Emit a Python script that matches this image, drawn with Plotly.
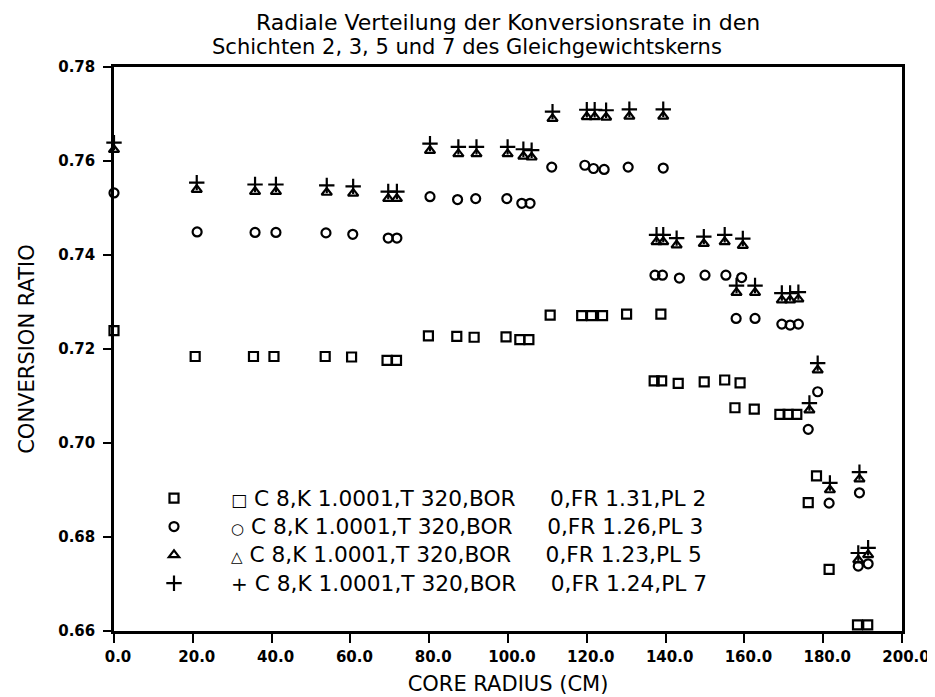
import plotly.graph_objects as go

# ---- data ----
sq_x = [0.0, 20.6, 35.4, 40.6, 53.6, 60.3, 69.3, 71.7, 79.8, 87.0, 91.4, 99.5, 103.0, 105.3,
        110.7, 118.7, 121.2, 124.0, 130.1, 138.8, 137.1, 139.0, 143.2, 149.8, 155.0, 158.9,
        157.6, 162.5, 169.0, 171.1, 173.3, 178.3, 176.2, 181.5, 188.7, 191.3]
sq_y = [0.7239, 0.7184, 0.7184, 0.7184, 0.7184, 0.7183, 0.7176, 0.7176, 0.7228, 0.7227, 0.7225, 0.7226, 0.7220, 0.7220,
        0.7272, 0.7271, 0.7271, 0.7271, 0.7274, 0.7274, 0.7132, 0.7132, 0.7127, 0.7130, 0.7134, 0.7128,
        0.7075, 0.7072, 0.7061, 0.7061, 0.7061, 0.6930, 0.6873, 0.6731, 0.6613, 0.6613]

ci_x = [0.0, 21.1, 35.8, 41.1, 53.8, 60.6, 69.6, 71.8, 80.2, 87.2, 91.8, 99.7, 103.5, 105.6,
        111.1, 119.5, 121.7, 124.4, 130.5, 139.4, 137.3, 139.2, 143.5, 150.0, 155.3, 159.3,
        157.9, 162.7, 169.5, 171.6, 173.7, 178.6, 176.2, 181.5, 189.2, 188.9, 191.4]
ci_y = [0.7532, 0.7449, 0.7448, 0.7448, 0.7447, 0.7444, 0.7436, 0.7436, 0.7524, 0.7518, 0.7520, 0.7520, 0.7510, 0.7510,
        0.7587, 0.7591, 0.7584, 0.7582, 0.7587, 0.7585, 0.7357, 0.7357, 0.7351, 0.7357, 0.7357, 0.7352,
        0.7265, 0.7265, 0.7253, 0.7251, 0.7253, 0.7109, 0.7029, 0.6872, 0.6894, 0.6738, 0.6743]

tr_x = [0.0, 21.0, 35.8, 41.1, 54.0, 60.7, 69.6, 71.8, 80.2, 87.4, 92.0, 99.9, 103.9, 106.0,
        111.3, 120.0, 122.0, 124.9, 130.8, 139.4, 137.7, 139.4, 142.8, 149.7, 155.0, 159.6,
        158.0, 162.7, 169.5, 171.6, 173.7, 178.6, 176.5, 181.7, 189.2, 188.9, 191.4]
tr_y = [0.7624, 0.7539, 0.7535, 0.7535, 0.7533, 0.7531, 0.7520, 0.7520, 0.7622, 0.7615, 0.7615, 0.7615, 0.7610, 0.7608,
        0.7690, 0.7694, 0.7694, 0.7693, 0.7695, 0.7695, 0.7428, 0.7428, 0.7421, 0.7424, 0.7428, 0.7420,
        0.7320, 0.7320, 0.7304, 0.7304, 0.7306, 0.7155, 0.7070, 0.6900, 0.6923, 0.6751, 0.6762]

pl_x = [0.0, 21.0, 35.8, 41.1, 54.0, 60.7, 69.6, 71.8, 80.2, 87.4, 92.0, 99.9, 103.9, 106.0,
        111.3, 120.0, 122.0, 124.9, 130.8, 139.4, 137.7, 139.4, 142.8, 149.7, 155.0, 159.6,
        158.0, 162.7, 169.5, 171.6, 173.7, 178.6, 176.5, 181.7, 189.2, 188.9, 191.4]
pl_y = [0.7639, 0.7554, 0.7550, 0.7550, 0.7548, 0.7546, 0.7535, 0.7535, 0.7637, 0.7630, 0.7630, 0.7630, 0.7625, 0.7623,
        0.7705, 0.7709, 0.7709, 0.7708, 0.7710, 0.7710, 0.7443, 0.7443, 0.7436, 0.7439, 0.7443, 0.7435,
        0.7335, 0.7335, 0.7319, 0.7319, 0.7321, 0.7170, 0.7085, 0.6915, 0.6938, 0.6766, 0.6777]

x_ticks = [0, 20, 40, 60, 80, 100, 120, 140, 160, 180, 200]
x_ticktext = ["0.0", "20.0", "40.0", "60.0", "80.0", "100.0", "120.0", "140.0", "160.0", "180.0", "200.0"]
y_ticks = [0.66, 0.68, 0.70, 0.72, 0.74, 0.76, 0.78]
y_ticktext = ["0.66", "0.68", "0.70", "0.72", "0.74", "0.76", "0.78"]

SP = "\u00a0"
series_labels = [
    ('<span style="font-size:17px">\u25A1</span>', f"C 8,K 1.0001,T 320,BOR{SP*5}0,FR 1.31,PL 2"),
    ('<span style="font-size:15px">\u25CB</span>', f"C 8,K 1.0001,T 320,BOR{SP*5}0,FR 1.26,PL 3"),
    ('<span style="font-size:15px">\u25B3</span>', f"C 8,K 1.0001,T 320,BOR{SP*5}0,FR 1.23,PL 5"),
    ('<span style="font-size:20px">+</span>', f"C 8,K 1.0001,T 320,BOR{SP*5}0,FR 1.24,PL 7"),
]
symbols = ["square-open", "circle-open", "triangle-up-open", "cross-thin-open"]
sizes = [9, 9, 9, 11]
xs = [sq_x, ci_x, tr_x, pl_x]
ys = [sq_y, ci_y, tr_y, pl_y]

FONT = "DejaVu Sans"

fig = go.Figure()
for (sym_txt, lab), sym, sz, x, y in zip(series_labels, symbols, sizes, xs, ys):
    name = f'{sym_txt}<span style="font-size:21.7px"> {lab}</span>'
    fig.add_trace(go.Scatter(
        x=x, y=y, mode="markers", name=name, cliponaxis=False,
        marker=dict(symbol=sym, size=sz, color="black",
                    line=dict(width=2.2, color="black")),
    ))

# the page body adds an 8px offset; compensate so the plot lands where the reference has it
OFF = 8
L, R, T, B = 114 - OFF, 33, 67 - OFF, 66
W, H = 935 - OFF, 697 - OFF
pw, ph = W - L - R, H - T - B

def px_x(p):
    return (p - OFF - L) / pw

def px_y(p):
    return (H - B - (p - OFF)) / ph

fig.update_layout(
    template="none",
    width=W, height=H,
    margin=dict(l=L, r=R, t=T, b=B, autoexpand=False),
    paper_bgcolor="white", plot_bgcolor="white",
    font=dict(family=FONT, color="black"),
    showlegend=True,
    legend=dict(
        x=px_x(117), y=px_y(479), xanchor="left", yanchor="top",
        bgcolor="rgba(0,0,0,0)", borderwidth=0,
        font=dict(family=FONT, size=19.5, color="black"),
        itemwidth=104, tracegroupgap=0,
    ),
    annotations=[
        dict(text="Radiale Verteilung der Konversionsrate in den", xref="paper", yref="paper",
             x=px_x(508), y=px_y(22), xanchor="center", yanchor="middle", showarrow=False,
             font=dict(family=FONT, size=22, color="black")),
        dict(text="Schichten 2, 3, 5 und 7 des Gleichgewichtskerns", xref="paper", yref="paper",
             x=px_x(467), y=px_y(47), xanchor="center", yanchor="middle", showarrow=False,
             font=dict(family=FONT, size=21, color="black")),
    ],
)

fig.update_xaxes(
    range=[0, 200], tickvals=x_ticks, ticktext=x_ticktext, automargin=False,
    showgrid=False, zeroline=False,
    showline=True, linewidth=2.5, linecolor="black", mirror=True,
    ticks="outside", ticklen=9, tickwidth=2, tickcolor="black",
    ticklabelstandoff=1, ticklabelshift=4,
    tickfont=dict(family=FONT, size=15, color="black", weight="bold"),
    title=dict(text="CORE RADIUS (CM)", font=dict(family=FONT, size=21, color="black"), standoff=12),
)
fig.update_yaxes(
    range=[0.66, 0.78], tickvals=y_ticks, ticktext=y_ticktext, automargin=False,
    showgrid=False, zeroline=False,
    showline=True, linewidth=2.5, linecolor="black", mirror=True,
    ticks="outside", ticklen=8, tickwidth=2, tickcolor="black",
    ticklabelstandoff=5,
    tickfont=dict(family=FONT, size=15, color="black", weight="bold"),
    title=dict(text="CONVERSION RATIO", font=dict(family=FONT, size=21, color="black"), standoff=18),
)

fig.write_html("out.html")
